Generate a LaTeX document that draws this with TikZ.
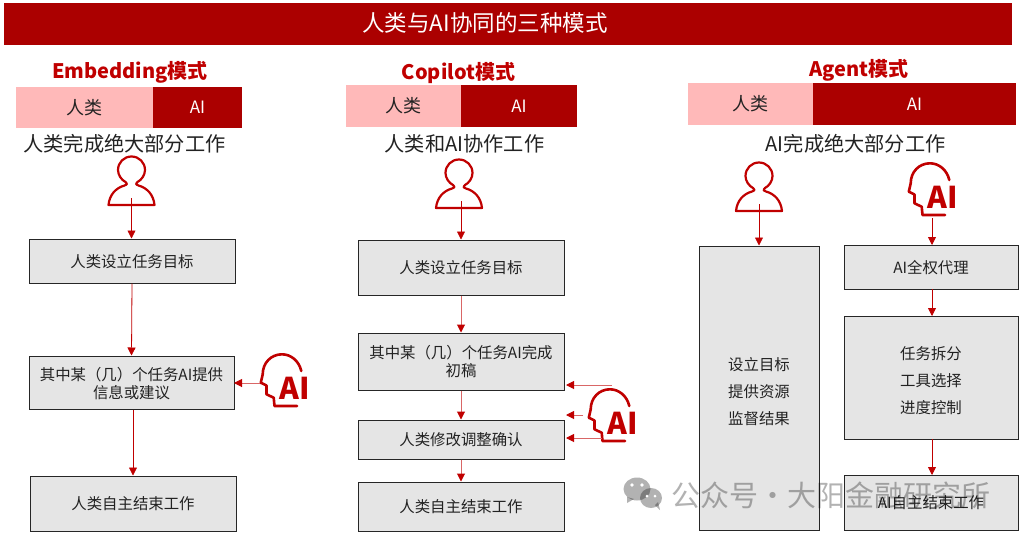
\documentclass[tikz,border=0pt]{standalone}
\usepackage{fontspec}
\setmainfont{Noto Sans CJK SC}
\usetikzlibrary{arrows.meta}
\definecolor{dred}{HTML}{AB0000}
\definecolor{tred}{HTML}{C00000}
\definecolor{pinkbar}{HTML}{FFB9B9}
\definecolor{boxgray}{HTML}{E5E5E5}
\definecolor{inkc}{HTML}{222222}
\newcommand{\fs}[1]{\fontsize{#1}{#1}\selectfont}
\tikzset{
  x=1pt,y=-1pt,
  titlebar/.style={fill=dred,inner sep=0,anchor=center},
  titletxt/.style={text=white,font=\fs{22.5},inner sep=0},
  modehead/.style={text=tred,font=\fs{20}\bfseries,inner sep=0},
  pinkseg/.style={fill=pinkbar,text=inkc,font=\fs{18},inner sep=0},
  redseg/.style={fill=dred,text=white,font=\fs{17},inner sep=0},
  subhead/.style={text=inkc,font=\fs{20.2},inner sep=0},
  flowbox/.style={draw=black!85,line width=1pt,fill=boxgray,inner sep=0},
  onebox/.style={flowbox,text=inkc,font=\fs{15.4},text height=14pt,text depth=1.5pt},
  boxtext/.style={text=inkc,font=\fontsize{15.4}{18}\selectfont,align=center,inner sep=0},
  flow/.style={draw=tred,line width=.8pt,-{Triangle[length=8pt,width=8pt]}},
  softflow/.style={draw=tred!60,line width=1pt,-{Triangle[length=8pt,width=8pt,fill=tred,color=tred]}},
  iconline/.style={draw=tred,line width=2.2pt,line cap=round,line join=round},
  mark text/.style={text=tred,font=\fs{30}\bfseries,inner sep=0},
  waterm/.style={text=black,text opacity=.3,font=\fs{29},inner sep=0},
}
\newcommand{\personicon}[3]{% name, cx, cy(head centre)
  \begin{scope}[shift={(#2,#3)}]
    \draw[iconline] (-6,12) .. controls (-10,10) and (-13.5,5) .. (-13.5,0)
      .. controls (-13.5,-7.5) and (-7.5,-13.5) .. (0,-13.5)
      .. controls (7.5,-13.5) and (13.5,-7.5) .. (13.5,0)
      .. controls (13.5,5) and (10,10) .. (6,12)
      .. controls (4,13) and (4,14.5) .. (7,15.5)
      .. controls (16,18) and (22,25) .. (23,35) -- (-23,35)
      .. controls (-22,25) and (-16,18) .. (-7,15.5)
      .. controls (-4,14.5) and (-4,13) .. (-6,12) -- cycle;
    \coordinate (#1) at (0,28);
  \end{scope}}
\newcommand{\aiicon}[3]{% name, left, top
  \begin{scope}[shift={(#2,#3)}]
    \draw[iconline,line width=2.6pt] (41.3,18) .. controls (39,8) and (31,1.3) .. (22,1.3)
      .. controls (11,1.3) and (2.7,10) .. (2.7,21.3) -- (0.8,29.7) -- (6.5,32.5) -- (6.5,41.3)
      -- (13.7,44.7) -- (14.5,53) -- (37,53);
    \node[mark text] (#1) at (34.5,35) {AI};
  \end{scope}}
\begin{document}
\begin{tikzpicture}
\useasboundingbox (0,0) rectangle (1023,536);
\fill[white] (0,0) rectangle (1023,536);

% title
\node[titlebar,minimum width=1008pt,minimum height=42pt] (title) at (508,24) {};
\node[titletxt] (titletext) at (485,23) {人类与AI协同的三种模式};

% column 1
\node[modehead] (h1) at (130,72) {Embedding模式};
\node[pinkseg,minimum width=137pt,minimum height=41pt] (p1) at (84.5,107.5) {人类};
\node[redseg,minimum width=89pt,minimum height=41pt] (r1) at (197.5,107.5) {AI};
\node[subhead] (s1) at (124.5,144) {人类完成绝大部分工作};
\personicon{u1}{131.5}{170}
\node[onebox,minimum width=206pt,minimum height=44pt] (a1) at (132,261) {人类设立任务目标};
\node[flowbox,minimum width=205pt,minimum height=53pt] (a2) at (131.5,382.5) {};
\node[boxtext] (a2t) at (131.5,383.5) {其中某（几）个任务AI提供\\信息或建议};
\node[onebox,minimum width=206pt,minimum height=55pt] (a3) at (133,503.5) {人类自主结束工作};
\aiicon{ai1}{260}{353}
\coordinate (a2r) at (234,383);
\coordinate (ai1l) at (260,383);
\draw[flow] (u1) -- (a1.north -| u1);
\draw[flow] (a1.south) -- (a2.north);
\draw[flow] (a3.north |- a2.south) -- (a3.north);
\draw[softflow] (ai1l) -- (a2r);

% column 2
\node[modehead] (h2) at (458.5,73) {Copilot模式};
\node[pinkseg,minimum width=115pt,minimum height=42pt] (p2) at (403.5,106) {人类};
\node[redseg,minimum width=116pt,minimum height=42pt] (r2) at (519,106) {AI};
\node[subhead] (s2) at (464.5,144) {人类和AI协作工作};
\personicon{u2}{459}{173}
\node[onebox,minimum width=206pt,minimum height=55pt] (b1) at (461,267.5) {人类设立任务目标};
\node[flowbox,minimum width=206pt,minimum height=57pt] (b2) at (461,361.5) {};
\node[boxtext] (b2t) at (461,362) {其中某（几）个任务AI完成\\初稿};
\node[onebox,minimum width=206pt,minimum height=39pt] (b3) at (461,439.5) {人类修改调整确认};
\node[onebox,minimum width=206pt,minimum height=49pt] (b4) at (461,506.5) {人类自主结束工作};
\aiicon{ai2}{588}{388}
\coordinate (c1s) at (612,385); \coordinate (c1e) at (566,385);
\coordinate (c2s) at (583,415); \coordinate (c2e) at (566,415);
\coordinate (c3s) at (602,438); \coordinate (c3e) at (566,438);
\draw[flow] (u2 -| b1) -- (b1.north);
\draw[softflow] (b1.south) -- (b2.north);
\draw[softflow] (b2.south) -- (b3.north);
\draw[softflow] (b3.south) -- (b4.north);
\draw[softflow] (c1s) -- (c1e);
\draw[softflow] (c2s) -- (c2e);
\draw[softflow] (c3s) -- (c3e);

% column 3
\node[modehead] (h3) at (859,70) {Agent模式};
\node[pinkseg,minimum width=125pt,minimum height=42pt] (p3) at (750.5,104) {人类};
\node[redseg,minimum width=203pt,minimum height=42pt] (r3) at (914.5,104) {AI};
\node[subhead] (s3) at (855.5,144) {AI完成绝大部分工作};
\personicon{u3}{759}{176}
\aiicon{ai3}{908}{162}
\node[flowbox,minimum width=120pt,minimum height=284pt] (c1) at (759,388) {};
\node[boxtext] (c1t) at (759,392) {设立目标\\[9pt]提供资源\\[9pt]监督结果};
\node[onebox,minimum width=174pt,minimum height=44pt] (d1) at (931,267) {AI全权代理};
\node[flowbox,minimum width=174pt,minimum height=123pt] (d2) at (931,377.5) {};
\node[boxtext] (d2t) at (931,381) {任务拆分\\[9pt]工具选择\\[9pt]进度控制};
\node[onebox,minimum width=174pt,minimum height=55pt] (d3) at (931,502.5) {AI自主结束工作};
\coordinate (ai3b) at (932,218);
\coordinate (d1top) at (932,245);
\coordinate (d1bot) at (932,289);
\coordinate (d2top) at (932,316);
\coordinate (d2bot) at (932,439);
\coordinate (d3top) at (932,475);
\draw[flow] (u3) -- (c1.north);
\draw[flow] (ai3b) -- (d1top);
\draw[flow] (d1bot) -- (d2top);
\draw[flow] (d2bot) -- (d3top);

% watermark
\begin{scope}[black,opacity=.3]
  \fill (637,489) ellipse (13.5pt and 11.5pt);
  \fill (627,497) -- (627,503) -- (634,499) -- cycle;
  \fill (651,498) ellipse (11pt and 10pt);
  \fill (655,505) -- (660,510) -- (658,502) -- cycle;
\end{scope}
\fill[white] (632,485) circle (1.8pt) (642,485) circle (1.8pt) (647,496) circle (1.5pt) (655,496) circle (1.5pt);
\node[waterm] (wm) at (831,495) {\spaceskip=.5pt 公众号 · 大阳金融研究所};
\end{tikzpicture}
\end{document}
